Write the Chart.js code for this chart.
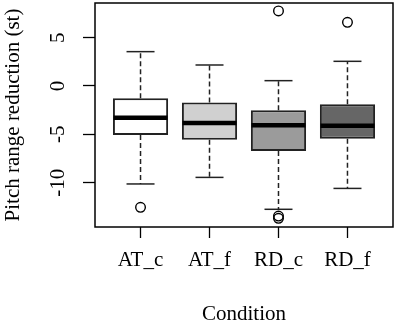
<!DOCTYPE html>
<html>
<head>
<meta charset="utf-8">
<script src="https://cdn.jsdelivr.net/npm/chart.js@4/dist/chart.umd.min.js"></script>
<style>
html,body{margin:0;padding:0;background:#fff;}
#c{display:block;}
</style>
</head>
<body>
<canvas id="c" width="397" height="323"></canvas>
<script>
// ---- data ----
const categories = ["AT_c", "AT_f", "RD_c", "RD_f"];
const whiskerLow = [-10.13, -9.45, -12.75, -10.59];
const q1 = [-5.07, -5.55, -6.72, -5.45];
const median = [-3.28, -3.83, -4.07, -4.10];
const q3 = [-1.27, -1.72, -2.52, -1.90];
const whiskerHigh = [3.55, 2.17, 0.55, 2.55];
const outlierCat = ["AT_c", "RD_c", "RD_c", "RD_c", "RD_f"];
const outlierVal = [-12.55, 7.76, -13.45, -13.68, 6.58];
const yTickValues = [-10, -5, 0, 5];
const boxColors = ["#ffffff", "#d0d0d0", "#9b9b9b", "#666666"];

const FONT = "'Liberation Serif', 'Times New Roman', serif";
const FS = 21;

const pos = i => i + 1;
const whiskerSegs = [];
categories.forEach((c, i) => {
  whiskerSegs.push({x: pos(i), y: q3[i]}, {x: pos(i), y: whiskerHigh[i]}, {x: pos(i), y: null});
  whiskerSegs.push({x: pos(i), y: q1[i]}, {x: pos(i), y: whiskerLow[i]}, {x: pos(i), y: null});
});
const caps = [];
categories.forEach((c, i) => {
  caps.push({x: pos(i), y: whiskerHigh[i]}, {x: pos(i), y: whiskerLow[i]});
});
const boxes = categories.map((c, i) => ({x: pos(i), y: [q1[i], q3[i]]}));
const meds = categories.map((c, i) => ({x: pos(i), y: median[i]}));
const outs = outlierCat.map((c, k) => ({x: categories.indexOf(c) + 1, y: outlierVal[k]}));

const framePlugin = {
  id: 'frame',
  afterDatasetsDraw(chart) {
    const a = chart.chartArea, ctx = chart.ctx;
    ctx.save();
    ctx.strokeStyle = '#000';
    ctx.lineWidth = 1.5;
    ctx.strokeRect(a.left, a.top, a.right - a.left, a.bottom - a.top);
    ctx.restore();
  }
};
const noPad = s => { s.paddingLeft = 0; s.paddingRight = 0; s.paddingTop = 0; s.paddingBottom = 0; };

new Chart(document.getElementById('c'), {
  type: 'bar',
  data: {
    datasets: [
      {
        type: 'line', data: whiskerSegs, spanGaps: false,
        borderColor: '#222', borderWidth: 1.5, borderDash: [5, 3],
        pointRadius: 0, order: 4
      },
      {
        type: 'scatter', data: caps, pointStyle: 'line', pointRadius: 14,
        borderColor: '#222', borderWidth: 1.5, order: 3
      },
      {
        type: 'bar', data: boxes, backgroundColor: boxColors,
        borderColor: '#222', borderWidth: 2, borderSkipped: false,
        barPercentage: 0.8, categoryPercentage: 1.0, order: 2
      },
      {
        type: 'scatter', data: meds, pointStyle: 'line', pointRadius: 27,
        borderColor: '#000', borderWidth: 4.5, order: 1
      },
      {
        type: 'scatter', data: outs, pointStyle: 'circle', pointRadius: 4.8,
        borderColor: '#000', backgroundColor: 'rgba(0,0,0,0)', borderWidth: 1.4, order: 0
      }
    ]
  },
  options: {
    responsive: false,
    animation: false,
    devicePixelRatio: 1,
    events: [],
    layout: {autoPadding: false, padding: {left: 0, right: 4, top: 3, bottom: 0}},
    plugins: {legend: {display: false}, tooltip: {enabled: false}},
    scales: {
      x: {
        type: 'linear', min: 0.34, max: 4.66, offset: false,
        grid: {drawOnChartArea: false, drawTicks: true, tickLength: 11, tickWidth: 1.3, tickColor: '#000', offset: false},
        border: {display: false},
        afterBuildTicks: s => { s.ticks = categories.map((c, i) => ({value: pos(i)})); },
        afterFit: s => { s.height = 96; noPad(s); },
        ticks: {
          color: '#000', font: {family: FONT, size: FS}, padding: 10, maxRotation: 0, autoSkip: false,
          callback: v => categories[v - 1]
        },
        title: {display: true, text: 'Condition', color: '#000', font: {family: FONT, size: FS, lineHeight: 0.85}, padding: 0}
      },
      y: {
        type: 'linear', min: -14.58, max: 8.58,
        grid: {drawOnChartArea: false, drawTicks: true, tickLength: 12, tickWidth: 1.3, tickColor: '#000'},
        border: {display: false},
        afterBuildTicks: s => { s.ticks = yTickValues.map(v => ({value: v})); },
        afterFit: s => { s.width = 95; noPad(s); },
        ticks: {
          color: '#000', font: {family: FONT, size: FS}, padding: 11, minRotation: 90, maxRotation: 90,
          crossAlign: 'center', autoSkip: false,
          callback: v => String(v)
        },
        title: {display: true, text: 'Pitch range reduction (st)', color: '#000', font: {family: FONT, size: FS, lineHeight: 1}, padding: 3}
      }
    }
  },
  plugins: [framePlugin]
});
</script>
</body>
</html>
